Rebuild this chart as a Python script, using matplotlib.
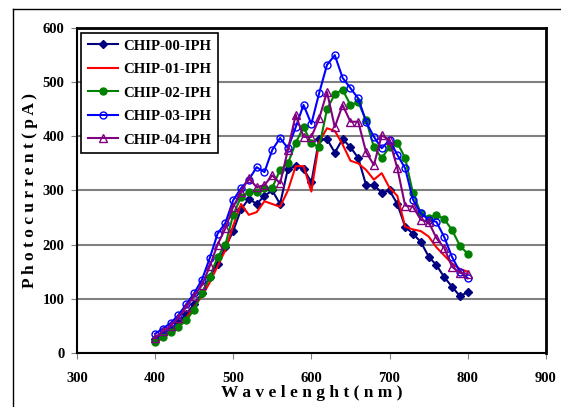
import numpy as np
import matplotlib.pyplot as plt
from matplotlib.lines import Line2D

wavelength = list(range(400, 801, 10))

chip00 = [25, 35, 42, 55, 72, 90, 110, 140, 165, 195, 225, 265, 285, 275, 290, 300, 275,
          340, 345, 340, 315, 395, 395, 370, 395, 380, 360, 310, 310, 296, 300, 275, 233,
          220, 205, 178, 162, 140, 122, 105, 112]
chip01 = [18, 28, 38, 50, 65, 85, 105, 130, 160, 190, 235, 275, 255, 260, 280, 275, 270,
          300, 345, 345, 298, 390, 415, 410, 385, 355, 350, 338, 320, 332, 305, 290, 233,
          228, 225, 215, 195, 180, 165, 155, 150]
chip02 = [20, 30, 38, 48, 60, 80, 110, 140, 177, 200, 255, 288, 297, 297, 305, 305, 338,
          350, 388, 417, 388, 380, 450, 478, 486, 458, 463, 430, 380, 360, 380, 388, 360,
          295, 258, 249, 255, 247, 227, 198, 183]
chip03 = [35, 45, 55, 70, 90, 110, 135, 175, 220, 240, 282, 304, 320, 343, 334, 375, 397,
          378, 417, 458, 423, 480, 532, 550, 508, 489, 470, 427, 399, 378, 393, 366, 341,
          283, 258, 246, 242, 214, 177, 150, 138]
chip04 = [28, 40, 50, 65, 85, 105, 125, 160, 200, 230, 270, 297, 323, 306, 310, 328, 313,
          375, 440, 399, 399, 433, 482, 417, 458, 427, 427, 371, 347, 402, 393, 341, 272,
          270, 246, 242, 212, 194, 159, 148, 146]

plt.rcParams['font.family'] = ['Liberation Serif', 'DejaVu Serif']
plt.rcParams['font.weight'] = 'bold'

fig = plt.figure(figsize=(5.61, 4.07), dpi=100)
ax = fig.add_axes([0.137, 0.133, 0.836, 0.798])

ax.plot(wavelength, chip00, color='#000080', marker='D', markersize=4.5, lw=1.5, label='CHIP-00-IPH')
ax.plot(wavelength, chip01, color='#ff0000', lw=1.5, label='CHIP-01-IPH')
ax.plot(wavelength, chip02, color='#008000', marker='o', markersize=5, lw=1.5, label='CHIP-02-IPH')
ax.plot(wavelength, chip03, color='#0000ff', marker='o', markersize=5, mfc='none', lw=1.5,
        label='CHIP-03-IPH')
ax.plot(wavelength, chip04, color='#800080', marker='^', markersize=6, mfc='none', lw=1.5,
        label='CHIP-04-IPH')

ax.set_xlim(300, 900)
ax.set_ylim(0, 600)
ax.set_xticks(range(300, 901, 100))
ax.set_yticks(range(0, 601, 100))
ax.yaxis.grid(True, color='#808080', lw=1.5)
ax.set_axisbelow(True)
for s in ['top', 'right']:
    ax.spines[s].set_linewidth(2)
for s in ['left', 'bottom']:
    ax.spines[s].set_linewidth(1.5)
ax.tick_params(direction='out', length=4, color='#808080', labelsize=10.5)
ax.tick_params(axis='x', pad=10)
ax.tick_params(axis='y', pad=5)

ax.set_xlabel('W a v e l e n g h t ( n m )', fontsize=12.5, fontweight='bold', labelpad=0)
ax.set_ylabel('P h o t o c u r r e n t ( p A )', fontsize=12.5, fontweight='bold', labelpad=3)

leg = ax.legend(loc='upper left', fontsize=10.7, fancybox=False, framealpha=1,
                edgecolor='black', handlelength=2.0, borderaxespad=0.3,
                labelspacing=0.68, handletextpad=0.4, borderpad=0.45)
leg.get_frame().set_linewidth(1.2)
for t in leg.get_texts():
    t.set_fontweight('bold')

# outer frame (left and top edges)
fig.add_artist(Line2D([13 / 561, 13 / 561], [0, 1 - 9 / 407], color='black', lw=1,
                      transform=fig.transFigure))
fig.add_artist(Line2D([13 / 561, 1], [1 - 9 / 407, 1 - 9 / 407], color='black', lw=1,
                      transform=fig.transFigure))

fig.savefig('out.png', dpi=100)
